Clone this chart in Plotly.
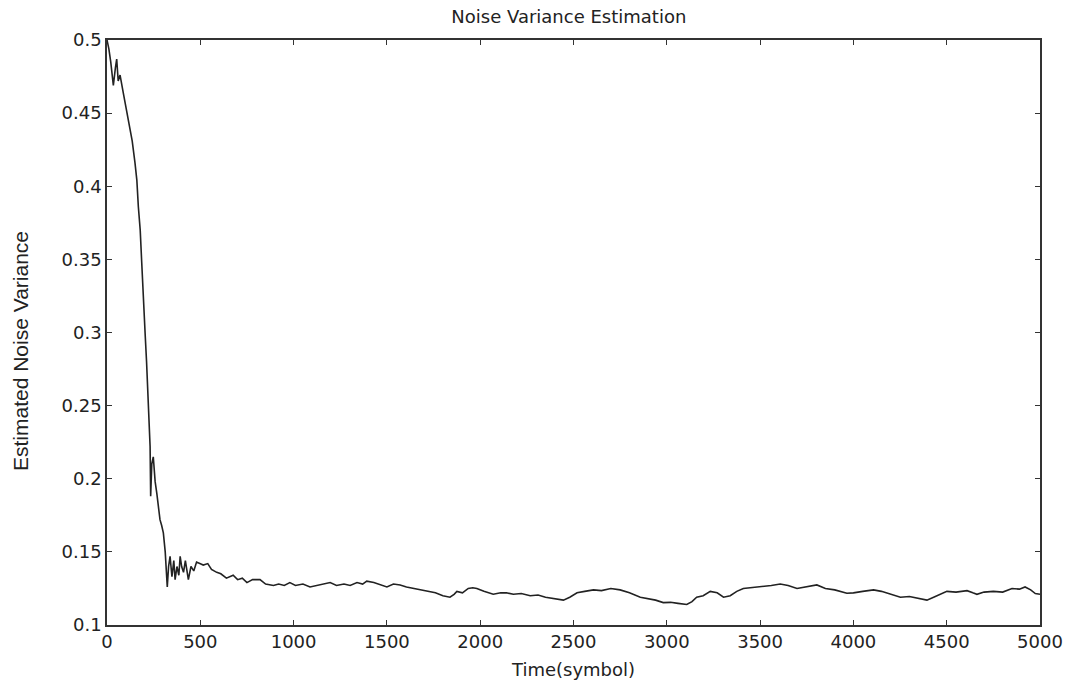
import plotly.graph_objects as go

time_symbol = [0, 10, 20, 34, 45, 52, 60, 70, 87, 95, 105, 115, 123, 135, 150, 160, 168, 178, 186, 195,
               204, 212, 221, 228, 231, 234, 240, 248, 258, 267, 275, 284, 293, 302, 312, 323, 330, 338, 348, 358,
               365, 375, 385, 392, 400, 410, 420, 436, 450, 465, 480, 500, 516, 540, 560, 588, 610, 640, 676, 700,
               725, 750, 780, 820, 850, 892, 920, 950, 980, 1010, 1050, 1088, 1120, 1160, 1196, 1230, 1270, 1303, 1340, 1370,
               1392, 1430, 1470, 1500, 1535, 1571, 1605, 1641, 1680, 1715, 1760, 1800, 1838, 1860, 1875, 1905, 1936, 1960, 1982, 2020,
               2070, 2110, 2140, 2178, 2220, 2268, 2310, 2350, 2400, 2446, 2480, 2519, 2560, 2607, 2650, 2700, 2750, 2800, 2858, 2900,
               2940, 2981, 3020, 3060, 3107, 3135, 3160, 3195, 3233, 3270, 3304, 3340, 3375, 3410, 3460, 3510, 3560, 3608, 3650, 3698,
               3750, 3804, 3850, 3900, 3965, 4000, 4050, 4108, 4150, 4200, 4252, 4300, 4350, 4394, 4430, 4470, 4501, 4550, 4609, 4640,
               4662, 4700, 4750, 4800, 4850, 4890, 4920, 4950, 4975, 5000]

noise_variance = [0.500, 0.494, 0.485, 0.469, 0.481, 0.487, 0.472, 0.476, 0.464, 0.458, 0.452, 0.445, 0.439, 0.431, 0.416, 0.404, 0.386, 0.370, 0.348, 0.328,
                  0.300, 0.280, 0.254, 0.232, 0.222, 0.188, 0.210, 0.215, 0.198, 0.190, 0.180, 0.172, 0.168, 0.163, 0.150, 0.126, 0.140, 0.147, 0.133, 0.144,
                  0.131, 0.140, 0.134, 0.147, 0.140, 0.136, 0.144, 0.131, 0.140, 0.137, 0.143, 0.142, 0.141, 0.142, 0.138, 0.136, 0.135, 0.132, 0.134, 0.131,
                  0.132, 0.129, 0.131, 0.131, 0.128, 0.127, 0.128, 0.127, 0.129, 0.127, 0.128, 0.126, 0.127, 0.128, 0.129, 0.127, 0.128, 0.127, 0.129, 0.128,
                  0.130, 0.129, 0.127, 0.126, 0.128, 0.1274, 0.126, 0.125, 0.124, 0.1228, 0.122, 0.120, 0.119, 0.121, 0.123, 0.122, 0.125, 0.1255, 0.125, 0.123,
                  0.121, 0.122, 0.122, 0.121, 0.1215, 0.120, 0.1205, 0.119, 0.118, 0.117, 0.119, 0.122, 0.123, 0.124, 0.1235, 0.125, 0.124, 0.122, 0.119, 0.118,
                  0.117, 0.1153, 0.1155, 0.1148, 0.114, 0.116, 0.119, 0.120, 0.123, 0.122, 0.119, 0.120, 0.123, 0.125, 0.1255, 0.126, 0.127, 0.128, 0.127, 0.125,
                  0.126, 0.1274, 0.125, 0.124, 0.1217, 0.122, 0.123, 0.124, 0.123, 0.121, 0.119, 0.1195, 0.118, 0.117, 0.119, 0.121, 0.123, 0.1225, 0.1235, 0.122,
                  0.121, 0.1225, 0.123, 0.1225, 0.125, 0.1245, 0.126, 0.124, 0.1215, 0.121]

x_ticks = [0, 500, 1000, 1500, 2000, 2500, 3000, 3500, 4000, 4500, 5000]
y_ticks = [0.1, 0.15, 0.2, 0.25, 0.3, 0.35, 0.4, 0.45, 0.5]
y_tick_labels = ["0.1", "0.15", "0.2", "0.25", "0.3", "0.35", "0.4", "0.45", "0.5"]

wide_font = "DejaVu Sans, Verdana, sans-serif"
text_color = "#222222"

fig = go.Figure()
fig.add_trace(go.Scatter(x=time_symbol, y=noise_variance, mode="lines",
                         line=dict(color="#222222", width=1.6), showlegend=False))

axis_common = dict(showline=True, linecolor="#333333", linewidth=1.5, mirror="ticks",
                   ticks="inside", ticklen=5, tickcolor="#333333", tickwidth=1,
                   showgrid=False, zeroline=False, automargin=False,
                   tickfont=dict(family=wide_font, size=18, color=text_color))

fig.update_layout(
    width=1068, height=683,
    margin=dict(l=107, r=28, t=40, b=58),
    paper_bgcolor="white", plot_bgcolor="white",
    title=dict(text="Noise Variance Estimation", x=0.495, xanchor="center", xref="paper",
               y=1 - 17 / 683, yanchor="middle",
               font=dict(family=wide_font, size=18, color=text_color)),
    xaxis=dict(range=[0, 5000], tickvals=x_ticks,
               title=dict(text="Time(symbol)", standoff=12,
                          font=dict(family=wide_font, size=18, color=text_color)),
               **axis_common),
    yaxis=dict(range=[0.1, 0.5], tickvals=y_ticks, ticktext=y_tick_labels,
               **axis_common),
    annotations=[dict(text="Estimated Noise Variance", textangle=-90,
                      xref="paper", yref="paper",
                      x=(20 - 107) / (1068 - 107 - 28), y=1 - (351 - 40) / (683 - 40 - 58),
                      xanchor="center", yanchor="middle", showarrow=False,
                      font=dict(family="Liberation Sans, Arial, sans-serif", size=21, color=text_color))],
)

fig.write_html("out.html")
